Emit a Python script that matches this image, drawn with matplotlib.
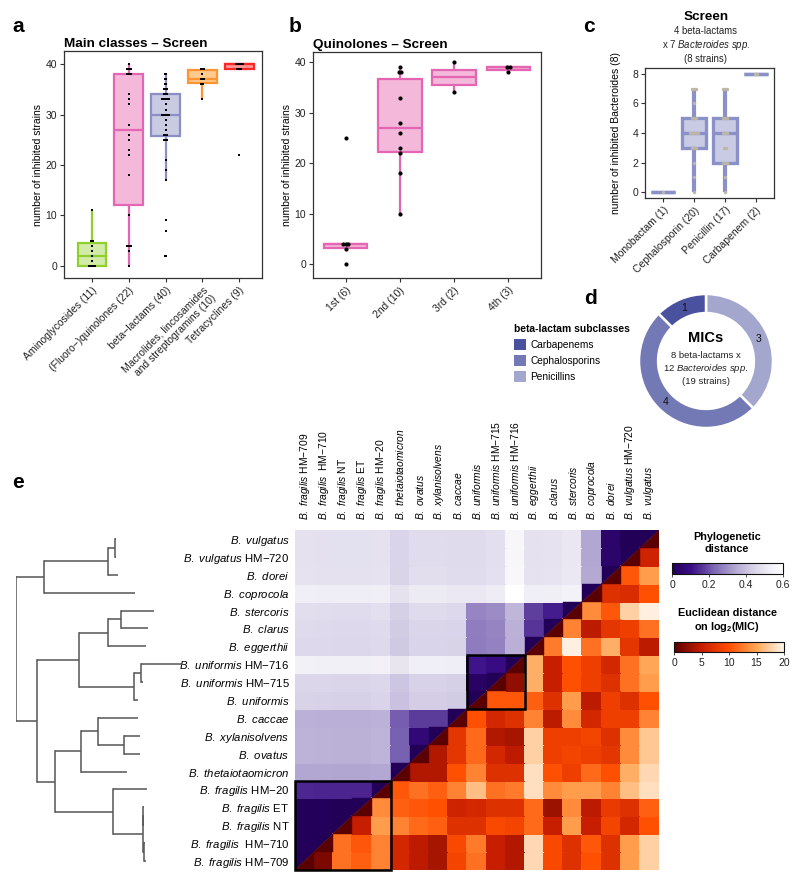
import numpy as np
import matplotlib
matplotlib.use("Agg")
import matplotlib.pyplot as plt
from matplotlib.colors import LinearSegmentedColormap, Normalize
from matplotlib.patches import Polygon, Rectangle, Patch
from matplotlib.cm import ScalarMappable

plt.rcParams['font.family'] = ['Liberation Sans', 'DejaVu Sans']
plt.rcParams['mathtext.fontset'] = 'custom'
plt.rcParams['mathtext.rm'] = 'Liberation Sans'
plt.rcParams['mathtext.it'] = 'Liberation Sans:italic'
plt.rcParams['mathtext.bf'] = 'Liberation Sans:bold'

# ---------------- data: panel a ----------------
classes_a = ["Aminoglycosides (11)", "(Fluoro\u2212)quinolones (22)", "beta\u2212lactams (40)",
             "Macrolides, lincosamides\nand streptogramins (10)", "Tetracyclines (9)"]
aminoglycosides = [0, 0, 0, 0, 1, 2, 3, 4, 5, 5, 11]
quinolones = [0, 3, 4, 4, 4, 10, 18, 22, 23, 25, 26, 28, 32, 33, 34, 38, 38, 38, 39, 39, 39, 40]
beta_lactams = [2, 2, 7, 9, 17, 19, 21, 25, 25, 25, 26, 26, 26, 27, 28, 29, 30, 30, 30, 30,
                30, 31, 32, 33, 33, 33, 33, 33, 34, 34, 34, 35, 35, 35, 36, 36, 37, 37, 38, 38]
macrolides = [33, 36, 36, 37, 37, 37, 38, 39, 39, 39]
tetracyclines = [22, 39, 39, 39, 40, 40, 40, 40, 40]
colors_a_edge = ["#8fcf2e", "#e466b2", "#8b90c4", "#ff9430", "#ff2626"]
colors_a_fill = ["#d2eba8", "#f4b9da", "#c9cbe3", "#ffc98f", "#ff9a9a"]

# ---------------- data: panel b ----------------
generations = ["1st (6)", "2nd (10)", "3rd (2)", "4th (3)"]
gen1 = [0, 3, 4, 4, 4, 25]
gen2 = [10, 18, 22, 23, 26, 28, 33, 38, 38, 39]
gen3 = [34, 40]
gen4 = [38, 39, 39]

# ---------------- data: panel c ----------------
subclasses_c = ["Monobactam (1)", "Cephalosporin (20)", "Penicillin (17)", "Carbapenem (2)"]
monobactam = [0]
cephalosporin = [0, 1, 2, 3, 3, 3, 4, 4, 4, 4, 4, 4, 5, 5, 5, 5, 6, 7, 7, 7]
penicillin = [0, 1, 2, 2, 2, 3, 3, 4, 4, 4, 5, 5, 5, 5, 7, 7, 7]
carbapenem = [8, 8]

# ---------------- data: panel d ----------------
subclass_d = ["Carbapenems", "Cephalosporins", "Penicillins"]
mic_counts = [1, 4, 3]
colors_d = ["#4a52a0", "#7279b5", "#a3a7cd"]

# ---------------- data: panel e ----------------
species = ["fragilis", "fragilis", "fragilis", "fragilis", "fragilis", "thetaiotaomicron",
           "ovatus", "xylanisolvens", "caccae", "uniformis", "uniformis", "uniformis",
           "eggerthii", "clarus", "stercoris", "coprocola", "dorei", "vulgatus", "vulgatus"]
strain_tag = ["HM\u2212709", " HM\u2212710", "NT", "ET", "HM\u221220", "", "", "", "", "",
              "HM\u2212715", "HM\u2212716", "", "", "", "", "", "HM\u2212720", ""]
# distance of each tip from the root of the tree
leaf_depth = [0.273, 0.271, 0.269, 0.269, 0.275, 0.233, 0.260, 0.260, 0.256, 0.256,
              0.267, 0.351, 0.273, 0.277, 0.290, 0.250, 0.214, 0.210, 0.210]
# tree: (node depth, [children]); ints are leaf indices
tree = (0.0, [
    (0.044, [
        (0.082, [
            (0.204, [(0.268, [(0.2685, [0, 1]), (0.2683, [2, 3])]), 4]),
            (0.137, [5, (0.172, [(0.227, [6, 7]), 8])]),
        ]),
        (0.132, [
            (0.248, [9, (0.2625, [10, 11])]),
            (0.193, [12, (0.221, [13, 14])]),
        ]),
    ]),
    (0.059, [15, (0.193, [16, (0.209, [17, 18])])]),
])
# Euclidean distance on log2(MIC): row s gives values for columns s+1 .. 18
euclid_rows = [
    [1.5, 12, 11, 13, 6, 4.5, 3.5, 9, 12, 5, 4, 18, 9.5, 7, 10, 7, 14.5, 17.5],
    [12, 10.5, 13, 6, 4.5, 3.5, 9.5, 12.5, 5, 4, 18, 9.5, 7, 10.5, 7, 14.5, 17.5],
    [5, 14.5, 13, 11.5, 11, 7, 7, 9.5, 9, 11.5, 5, 14.5, 5, 9, 6, 10],
    [13.5, 11, 10.5, 10, 5.5, 6, 7, 7, 11.5, 3, 13.5, 4.5, 8, 7, 11],
    [10.5, 12, 11, 13, 16.5, 12, 12.5, 18.5, 13.5, 14.5, 14.5, 13, 16.5, 18.5],
    [4, 4, 10, 13, 7, 7, 18.5, 10, 8.5, 11.5, 10, 15.5, 18],
    [4, 7.5, 11.5, 6, 4.5, 17.5, 8.5, 9, 8.5, 7.5, 13.5, 17],
    [7.5, 11.5, 4, 3.5, 17.5, 8.5, 8.5, 9, 7, 13.5, 17],
    [10, 6, 7, 13, 4.5, 13.5, 6, 8.5, 8.5, 13],
    [10.5, 10.5, 11, 7, 14.5, 4.5, 8.5, 7, 10],
    [2.5, 15.5, 5, 10, 8.5, 7, 12, 14.5],
    [15.5, 5, 10, 8.5, 6, 12, 15],
    [12.5, 19.5, 12, 15.5, 7.5, 4.5],
    [13, 4.5, 7.5, 8.5, 12],
    [13.5, 10.5, 17.5, 19.5],
    [7, 6.5, 10],
    [10.5, 14.5],
    [5.5],
]
boxed_blocks = [(0, 5), (9, 3)]

# ---------------- helpers ----------------
W, H = 800, 883


def rect(l, t, r, b):
    return [l / W, 1 - b / H, (r - l) / W, (b - t) / H]


def style(ax):
    for sp in ax.spines.values():
        sp.set_color('#333333')
        sp.set_linewidth(0.9)
    ax.tick_params(length=3, width=0.8, color='#333333', labelsize=7.5,
                   labelcolor='#222222', pad=2)


def draw_box(ax, vals, pos, edge, fill, width, lw, wlw):
    ax.boxplot([vals], positions=[pos], widths=width, patch_artist=True,
               showfliers=False, showcaps=False, whis=1.5, manage_ticks=False,
               boxprops=dict(facecolor=fill, edgecolor=edge, linewidth=lw),
               whiskerprops=dict(color=edge, linewidth=wlw, solid_capstyle='butt'),
               medianprops=dict(color=edge, linewidth=lw), zorder=2)


def draw_points(ax, vals, pos, color, size, marker, step):
    u, cnt = np.unique(np.asarray(vals, float), return_counts=True)
    for v, n in zip(u, cnt):
        xs = pos + (np.arange(n) - (n - 1) / 2) * step
        ax.scatter(xs, np.full(n, v), s=size, c=color, marker=marker,
                   linewidths=0, zorder=3)


def sp_label(sp, tag):
    s = r"$\mathit{B.\ " + sp + "}$"
    if tag:
        s += " " + tag
    return s


fig = plt.figure(figsize=(W / 100, H / 100), dpi=100)

# ---------------- panel a ----------------
axa = fig.add_axes(rect(64, 51, 262, 278))
data_a = [aminoglycosides, quinolones, beta_lactams, macrolides, tetracyclines]
for i, vals in enumerate(data_a):
    draw_box(axa, vals, i + 1, colors_a_edge[i], colors_a_fill[i], 0.78, 1.6, 1.6)
    draw_points(axa, vals, i + 1, 'black', 4, 's', 0.05)
axa.set_xlim(0.24, 5.62)
axa.set_ylim(-2.4, 42.6)
axa.set_yticks([0, 10, 20, 30, 40])
axa.set_xticks(np.arange(1, 6))
axa.set_xticklabels(classes_a, rotation=45, ha='right', va='top', rotation_mode='anchor')
axa.set_ylabel("number of inhibited strains", fontsize=7.5, labelpad=2)
style(axa)
axa.set_title("Main classes \u2013 Screen", loc='left', fontsize=9.7, fontweight='bold', pad=3)
fig.text(12 / W, 1 - 27 / H, "a", fontsize=15, fontweight='bold', va='center')

# ---------------- panel b ----------------
axb = fig.add_axes(rect(313, 52, 541, 278))
for i, vals in enumerate([gen1, gen2, gen3, gen4]):
    draw_box(axb, vals, i + 1, "#e466b2", "#f4b9da", 0.8, 1.6, 1.6)
    draw_points(axb, vals, i + 1, 'black', 9, 'o', 0.05)
axb.set_xlim(0.4, 4.6)
axb.set_ylim(-2.7, 42)
axb.set_yticks([0, 10, 20, 30, 40])
axb.set_xticks(np.arange(1, 5))
axb.set_xticklabels(generations, rotation=45, ha='right', va='top', rotation_mode='anchor')
axb.set_ylabel("number of inhibited strains", fontsize=7.5, labelpad=2)
style(axb)
axb.set_title("Quinolones \u2013 Screen", loc='left', fontsize=9.7, fontweight='bold', pad=3)
fig.text(289 / W, 1 - 27 / H, "b", fontsize=15, fontweight='bold', va='center')

# ---------------- panel c ----------------
axc = fig.add_axes(rect(645, 68, 774, 198))
for i, vals in enumerate([monobactam, cephalosporin, penicillin, carbapenem]):
    draw_box(axc, vals, i + 1, "#8a90c8", "#c9cbe5", 0.8, 2.4, 3.0)
    draw_points(axc, vals, i + 1, '#bdb6a4', 6, 'o', 0.05)
axc.set_xlim(0.42, 4.58)
axc.set_ylim(-0.4, 8.4)
axc.set_yticks([0, 2, 4, 6, 8])
axc.set_xticks(np.arange(1, 5))
axc.set_xticklabels(subclasses_c, rotation=45, ha='right', va='top', rotation_mode='anchor')
axc.set_ylabel("number of inhibited Bacteroides (8)", fontsize=7.5, labelpad=8)
style(axc)
fig.text(706 / W, 1 - 17 / H, "Screen", ha='center', va='center', fontsize=9.7, fontweight='bold')
fig.text(706 / W, 1 - 45 / H, "4 beta-lactams\nx 7 $\\mathit{Bacteroides\\ spp.}$\n(8 strains)",
         ha='center', va='center', fontsize=6.9, linespacing=1.25, color='#222222')
fig.text(583 / W, 1 - 27 / H, "c", fontsize=15, fontweight='bold', va='center')

# ---------------- panel d ----------------
axd = fig.add_axes(rect(639, 294, 773, 428))
order = [2, 1, 0]
axd.pie([mic_counts[k] for k in order], colors=[colors_d[k] for k in order],
        labels=[str(mic_counts[k]) for k in order], labeldistance=0.855,
        startangle=90, counterclock=False, radius=1.0,
        wedgeprops=dict(width=0.285, edgecolor='white', linewidth=1.8),
        textprops=dict(ha='center', va='center', fontsize=7.5, color='#111111'))
axd.set_xlim(-1.0, 1.0)
axd.set_ylim(-1.0, 1.0)
axd.set_aspect('equal')
axd.axis('off')
fig.text(706 / W, 1 - 338 / H, "MICs", ha='center', va='center', fontsize=10.5, fontweight='bold')
fig.text(706 / W, 1 - 368 / H, "8 beta-lactams x\n12 $\\mathit{Bacteroides\\ spp.}$\n(19 strains)",
         ha='center', va='center', fontsize=6.8, linespacing=1.25, color='#222222')
handles = [Patch(facecolor=colors_d[k], edgecolor='none') for k in range(3)]
fig.legend(handles, subclass_d, loc='upper left', bbox_to_anchor=(514 / W, 1 - 324 / H),
           frameon=False, title="beta-lactam subclasses",
           title_fontproperties={'weight': 'bold', 'size': 7.4}, fontsize=7.3,
           handlelength=1.15, handleheight=1.3, labelspacing=0.5, handletextpad=0.45,
           alignment='left', borderaxespad=0, borderpad=0)
fig.text(584 / W, 1 - 298 / H, "d", fontsize=15, fontweight='bold', va='center')

# ---------------- panel e ----------------
n = len(species)
labels_e = [sp_label(s, t) for s, t in zip(species, strain_tag)]

E = np.zeros((n, n))
for s, row in enumerate(euclid_rows):
    for k, v in enumerate(row):
        E[s, s + 1 + k] = v
        E[s + 1 + k, s] = v

P = np.zeros((n, n))


def collect(node):
    if isinstance(node, int):
        return [node]
    h, children = node
    sets = [collect(ch) for ch in children]
    for a in range(len(sets)):
        for b in range(a + 1, len(sets)):
            for i in sets[a]:
                for j in sets[b]:
                    P[i, j] = P[j, i] = leaf_depth[i] + leaf_depth[j] - 2 * h
    return sum(sets, [])


collect(tree)

cm_phylo = LinearSegmentedColormap.from_list("phylo", [
    (0.0, "#220058"), (0.167, "#3a0c86"), (0.283, "#5a3a9a"), (0.367, "#7a62b2"),
    (0.567, "#b2a6d2"), (0.733, "#d8d2e8"), (0.867, "#efedf5"), (1.0, "#ffffff")])
cm_euc = LinearSegmentedColormap.from_list("euc", [
    (0.0, "#5a0000"), (0.25, "#c81e00"), (0.5, "#ff4e00"), (0.75, "#ffa655"), (1.0, "#fff7ee")])

I, J = np.indices((n, n))
Cp = np.ma.masked_where(~(I > J), P)
Ce = np.ma.masked_where(~(I < J), E)

axh = fig.add_axes(rect(295, 530, 659, 870))
edges = np.arange(n + 1)
axh.pcolormesh(edges, edges, Cp, cmap=cm_phylo, vmin=0, vmax=0.6, shading='flat',
               edgecolors='face', linewidth=0.3)
axh.pcolormesh(edges, edges, Ce, cmap=cm_euc, vmin=0, vmax=20, shading='flat',
               edgecolors='face', linewidth=0.3)
for i in range(n):
    axh.add_patch(Polygon([[i, i], [i, i + 1], [i + 1, i + 1]], closed=True,
                          facecolor=cm_phylo(0.0), edgecolor=cm_phylo(0.0), linewidth=0.3))
    axh.add_patch(Polygon([[i, i], [i + 1, i], [i + 1, i + 1]], closed=True,
                          facecolor=cm_euc(0.0), edgecolor=cm_euc(0.0), linewidth=0.3))
for start, size in boxed_blocks:
    axh.add_patch(Rectangle((start, start), size, size, fill=False, edgecolor='black',
                            linewidth=1.8, zorder=5, clip_on=False))
axh.set_xlim(0, n)
axh.set_ylim(0, n)
axh.set_xticks(np.arange(n) + 0.5)
axh.set_xticklabels(labels_e, rotation=90, fontsize=7.4)
axh.set_yticks(np.arange(n) + 0.5)
axh.set_yticklabels(labels_e, fontsize=8.2)
axh.xaxis.set_ticks_position('top')
axh.tick_params(axis='x', length=0, pad=7, top=True, labeltop=True, bottom=False, labelbottom=False)
axh.tick_params(axis='y', length=0, pad=4)
for sp in axh.spines.values():
    sp.set_visible(False)

# dendrogram
axt = fig.add_axes(rect(15.7, 530, 15.7 + 180, 870))
axt.set_xlim(0, 180 * 0.0021)
axt.set_ylim(0, n)
axt.axis('off')


def draw_node(node):
    if isinstance(node, int):
        return node + 0.5, leaf_depth[node]
    h, children = node
    pts = [draw_node(ch) for ch in children]
    ys = [p[0] for p in pts]
    for y, d in pts:
        axt.plot([h, d], [y, y], color='#555555', lw=1.1, solid_capstyle='butt')
    axt.plot([h, h], [min(ys), max(ys)], color='#555555', lw=1.1, solid_capstyle='projecting')
    return (min(ys) + max(ys)) / 2, h


draw_node(tree)
fig.text(12 / W, 1 - 483 / H, "e", fontsize=15, fontweight='bold', va='center')

# colorbars
cax1 = fig.add_axes(rect(672, 563, 783, 574))
cb1 = fig.colorbar(ScalarMappable(norm=Normalize(0, 0.6), cmap=cm_phylo), cax=cax1,
                   orientation='horizontal', ticks=[0, 0.2, 0.4, 0.6])
cb1.ax.set_xticklabels(["0", "0.2", "0.4", "0.6"])
cax2 = fig.add_axes(rect(674, 642, 784, 652))
cb2 = fig.colorbar(ScalarMappable(norm=Normalize(0, 20), cmap=cm_euc), cax=cax2,
                   orientation='horizontal', ticks=[0, 5, 10, 15, 20])
for cb in (cb1, cb2):
    cb.outline.set_edgecolor('#111111')
    cb.outline.set_linewidth(0.8)
    cb.ax.tick_params(labelsize=7.5, length=2, width=0.6, color='#333333', pad=2,
                      labelcolor='#222222')
fig.text(727 / W, 1 - 543 / H, "Phylogenetic\ndistance", ha='center', va='center',
         fontsize=7.8, fontweight='bold', linespacing=1.15)
fig.text(727 / W, 1 - 621 / H, "Euclidean distance\non log$_\\mathbf{2}$(MIC)", ha='center',
         va='center', fontsize=7.8, fontweight='bold', linespacing=1.15)

fig.savefig("out.png", dpi=100)
